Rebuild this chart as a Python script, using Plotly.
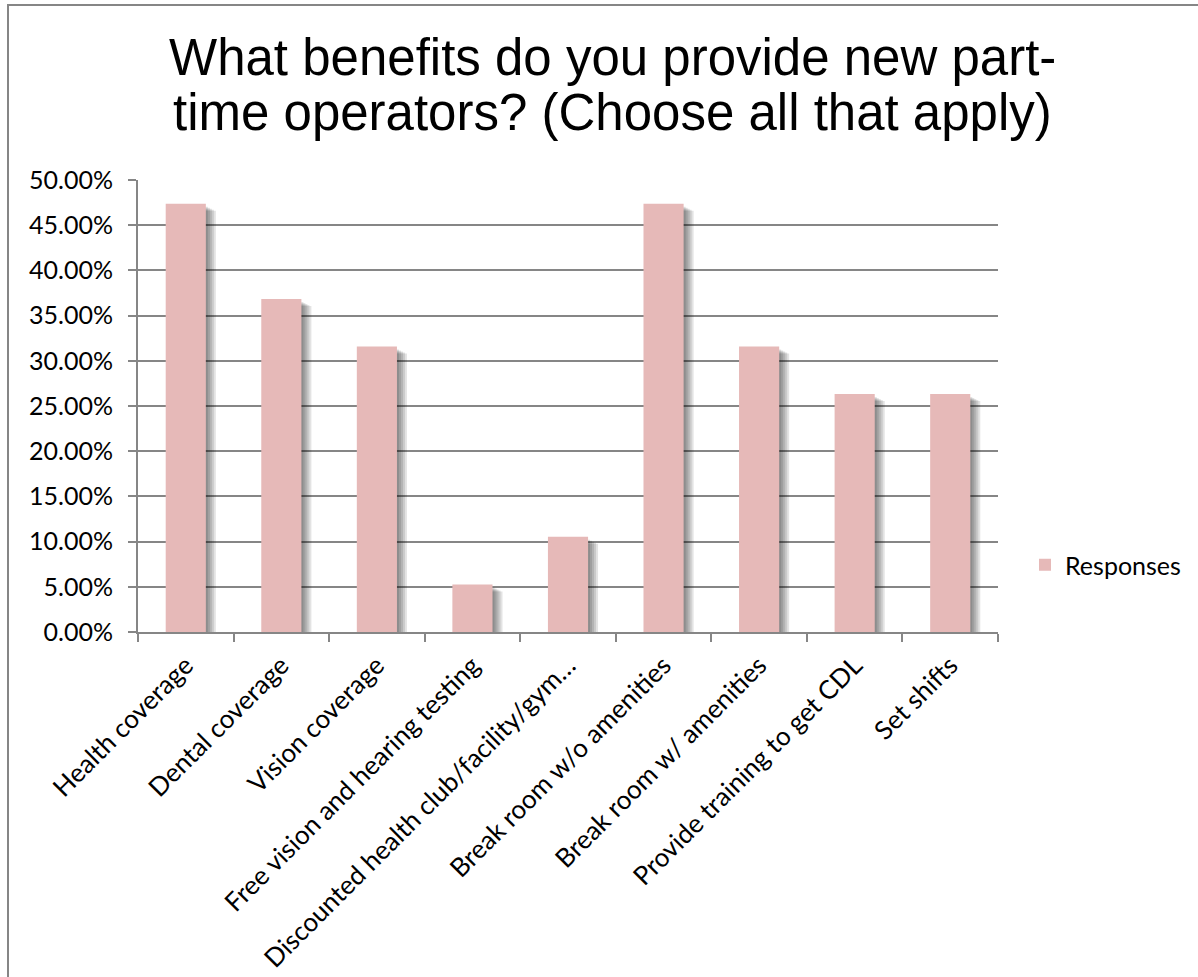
import plotly.graph_objects as go

# Survey results: share of respondents offering each benefit
categories = [
    "Health coverage",
    "Dental coverage",
    "Vision coverage",
    "Free vision and hearing testing",
    "Discounted health club/facility/gym…",
    "Break room w/o amenities",
    "Break room w/ amenities",
    "Provide training to get CDL",
    "Set shifts",
]
responses = [0.4737, 0.3684, 0.3158, 0.0526, 0.1053, 0.4737, 0.3158, 0.2632, 0.2632]

y_ticks = [0.0, 0.05, 0.10, 0.15, 0.20, 0.25, 0.30, 0.35, 0.40, 0.45, 0.50]
title_lines = ["What benefits do you provide new part-",
               "time operators? (Choose all that apply)"]
series_name = "Responses"

W, H = 1198, 977
L, R, T, B = 138, 200, 180, 345
plot_w = W - L - R
plot_h = H - T - B

BAR_COLOR = "#E6B9B8"
GRID = "#868686"
LABEL_FONT = "Lato"

bar_width = 0.42
px_x = 1.0 / (plot_w / len(categories))  # one pixel in category units
px_y = 0.5 / plot_h                        # one pixel in value units

fig = go.Figure()

# soft drop shadow to the right of each bar, built from stacked translucent layers
for k in range(1, 6):
    fig.add_trace(go.Bar(
        x=categories,
        y=[max(v - (2 + k) * px_y, 0) for v in responses],
        width=bar_width,
        offset=-bar_width / 2 + 2 * k * px_x,
        marker=dict(color="rgba(0,0,0,0.11)", line=dict(width=0)),
        showlegend=False,
        hoverinfo="skip",
    ))

fig.add_trace(go.Bar(
    x=categories,
    y=responses,
    width=bar_width,
    offset=-bar_width / 2,
    name=series_name,
    marker=dict(color=BAR_COLOR, line=dict(width=0)),
))

# chart title, one annotation per line
for line, py in zip(title_lines, [57, 112]):
    fig.add_annotation(
        text=line, xref="paper", yref="paper",
        x=(W / 2 + 13 - L) / plot_w, y=(H - B - py) / plot_h,
        xanchor="center", yanchor="middle", showarrow=False,
        font=dict(family="Liberation Sans, Arial", size=51, color="#000000"),
    )

# chart-area border (right and bottom edges run off the page)
fig.add_shape(
    type="rect", xref="paper", yref="paper",
    x0=(8 - L) / plot_w, x1=(W + 20 - L) / plot_w,
    y0=-1.0, y1=(H - B - 5) / plot_h,
    line=dict(color=GRID, width=2), fillcolor="rgba(0,0,0,0)", layer="below",
)

fig.update_layout(
    width=W, height=H,
    margin=dict(l=L, r=R, t=T, b=B, autoexpand=False),
    paper_bgcolor="white", plot_bgcolor="white",
    barmode="overlay",
    showlegend=True,
    legend=dict(
        x=(1025 - L) / plot_w, y=(H - B - 565) / plot_h,
        xanchor="left", yanchor="middle",
        font=dict(family=LABEL_FONT, size=25, color="#000000"),
        bgcolor="rgba(0,0,0,0)", itemwidth=30,
    ),
    xaxis=dict(
        type="category",
        tickangle=-45,
        tickson="boundaries",
        ticks="outside", ticklen=8, tickwidth=2, tickcolor=GRID,
        showline=True, linecolor=GRID, linewidth=2,
        showgrid=False,
        tickfont=dict(family=LABEL_FONT, size=26, color="#000000"),
        ticklabelstandoff=6,
    ),
    yaxis=dict(
        range=[0, 0.5],
        tickvals=y_ticks,
        tickformat=".2%",
        ticks="outside", ticklen=8, tickwidth=2, tickcolor=GRID,
        showline=True, linecolor=GRID, linewidth=2,
        showgrid=True, gridcolor=GRID, gridwidth=2,
        zeroline=False,
        tickfont=dict(family=LABEL_FONT, size=25, color="#000000"),
        ticklabelstandoff=10,
    ),
)

fig.write_html("out.html")
